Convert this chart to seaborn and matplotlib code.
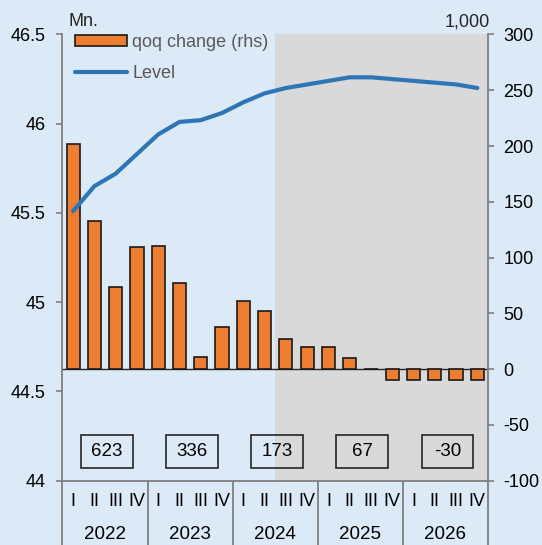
import numpy as np
import pandas as pd
import matplotlib
matplotlib.use("Agg")
import matplotlib.pyplot as plt
import matplotlib.transforms as mtransforms
from matplotlib.patches import Patch, Rectangle
from matplotlib.lines import Line2D
import seaborn as sns

# Data
years = ["2022", "2023", "2024", "2025", "2026"]
quarters = ["I", "II", "III", "IV"]
qoq_change = [202, 133, 74, 109, 110, 77, 11, 38, 61, 52,
              27, 20, 20, 10, 0, -10, -10, -10, -10, -10]
level = [45.51, 45.65, 45.72, 45.83, 45.94, 46.01, 46.02, 46.06, 46.12, 46.17,
         46.20, 46.22, 46.24, 46.26, 46.26, 46.25, 46.24, 46.23, 46.22, 46.20]
annual_totals = ["623", "336", "173", "67", "-30"]
forecast_start = 10  # first forecast quarter (2024 Q3)

df = pd.DataFrame({
    "idx": np.arange(len(level)),
    "qoq": qoq_change,
    "level": level,
})

bg = "#dce9f7"
orange = "#ed7d31"
blue = "#2e75b6"
grey = "#7f7f7f"

sns.set_theme(style="white")
plt.rcParams["font.family"] = ["Liberation Sans", "DejaVu Sans"]
plt.rcParams["axes.unicode_minus"] = False

fig = plt.figure(figsize=(5.42, 5.45), dpi=100, facecolor=bg)
ax = fig.add_axes([0.1153, 0.1183, 0.785, 0.8184])
ax2 = ax.twinx()
ax.set_zorder(ax2.get_zorder() + 1)
ax.patch.set_visible(False)
ax2.set_facecolor(bg)

# forecast shading
ax2.axvspan(forecast_start - 0.5, len(level) - 0.5, color="#d9d9d9", zorder=0, lw=0)

# bars on the right axis
sns.barplot(data=df, x="idx", y="qoq", ax=ax2, color=orange, width=0.62,
            edgecolor="#1a1a1a", linewidth=1.2, saturation=1, native_scale=True,
            zorder=2)
ax2.axhline(0, color="#262626", lw=1, zorder=1)

# level line on the left axis
sns.lineplot(data=df, x="idx", y="level", ax=ax, color=blue, lw=3, zorder=3)

ax.set_xlim(-0.5, len(level) - 0.5)
ax.set_ylim(44, 46.5)
ax2.set_ylim(-100, 300)

left_ticks = [44, 44.5, 45, 45.5, 46, 46.5]
ax.set_yticks(left_ticks)
ax.set_yticklabels([f"{t:g}" for t in left_ticks])
right_ticks = list(range(-100, 301, 50))
ax2.set_yticks(right_ticks)
ax2.set_yticklabels([str(t) for t in right_ticks])

ax.set_xlabel("")
ax.set_ylabel("")
ax2.set_xlabel("")
ax2.set_ylabel("")

for s in ["top", "right"]:
    ax.spines[s].set_visible(False)
for s in ["top", "left", "bottom"]:
    ax2.spines[s].set_visible(False)
for sp in [ax.spines["left"], ax.spines["bottom"], ax2.spines["right"]]:
    sp.set_color(grey)
    sp.set_linewidth(1.3)

ax.tick_params(axis="y", left=True, direction="out", length=4, width=1.2,
               color=grey, labelsize=13, pad=8, labelcolor="black")
ax2.tick_params(axis="y", right=True, direction="out", length=4, width=1.2,
                color=grey, labelsize=13, pad=7, labelcolor="black")

# x axis: year separators as long ticks, labels as text
seps = [4 * i - 0.5 for i in range(len(years) + 1)]
ax.set_xticks(seps)
ax.set_xticklabels([])
ax.tick_params(axis="x", bottom=True, direction="out", length=47, width=1.3, color=grey)
ax2.tick_params(axis="x", bottom=False, labelbottom=False)

trans = mtransforms.blended_transform_factory(ax.transData, ax.transAxes)
for i in range(len(level)):
    ax.text(i, -0.048, quarters[i % 4], transform=trans, ha="center", va="center",
            fontsize=13, color="black")
for k, y in enumerate(years):
    ax.text(4 * k + 1.5, -0.122, y, transform=trans, ha="center", va="center",
            fontsize=13.5, color="black")

# annual totals boxes
for k, lab in enumerate(annual_totals):
    xc = 4 * k + 1.6
    ax2.add_patch(Rectangle((xc - 1.22, -88.6), 2.44, 29.0, fill=False,
                            ec="#262626", lw=1.2, zorder=4))
    ax2.text(xc, -74, lab, ha="center", va="center", fontsize=13.5, color="black",
             zorder=5)

# unit labels
fig.text(68 / 542, 1 - 22 / 545, "Mn.", ha="left", va="center", fontsize=13)
fig.text(490 / 542, 1 - 22 / 545, "1,000", ha="right", va="center", fontsize=13)

handles = [Patch(facecolor=orange, edgecolor="#1a1a1a", linewidth=1.2),
           Line2D([0], [0], color=blue, lw=3)]
leg = ax.legend(handles, ["qoq change (rhs)", "Level"], loc="upper left",
                bbox_to_anchor=(0.0, 1.03), frameon=False, fontsize=13,
                handlelength=2.9, handleheight=0.55, handletextpad=0.25,
                labelspacing=0.8, borderaxespad=0.3)
for t in leg.get_texts():
    t.set_color("#595959")

fig.savefig("out.png", dpi=100, facecolor=bg)
